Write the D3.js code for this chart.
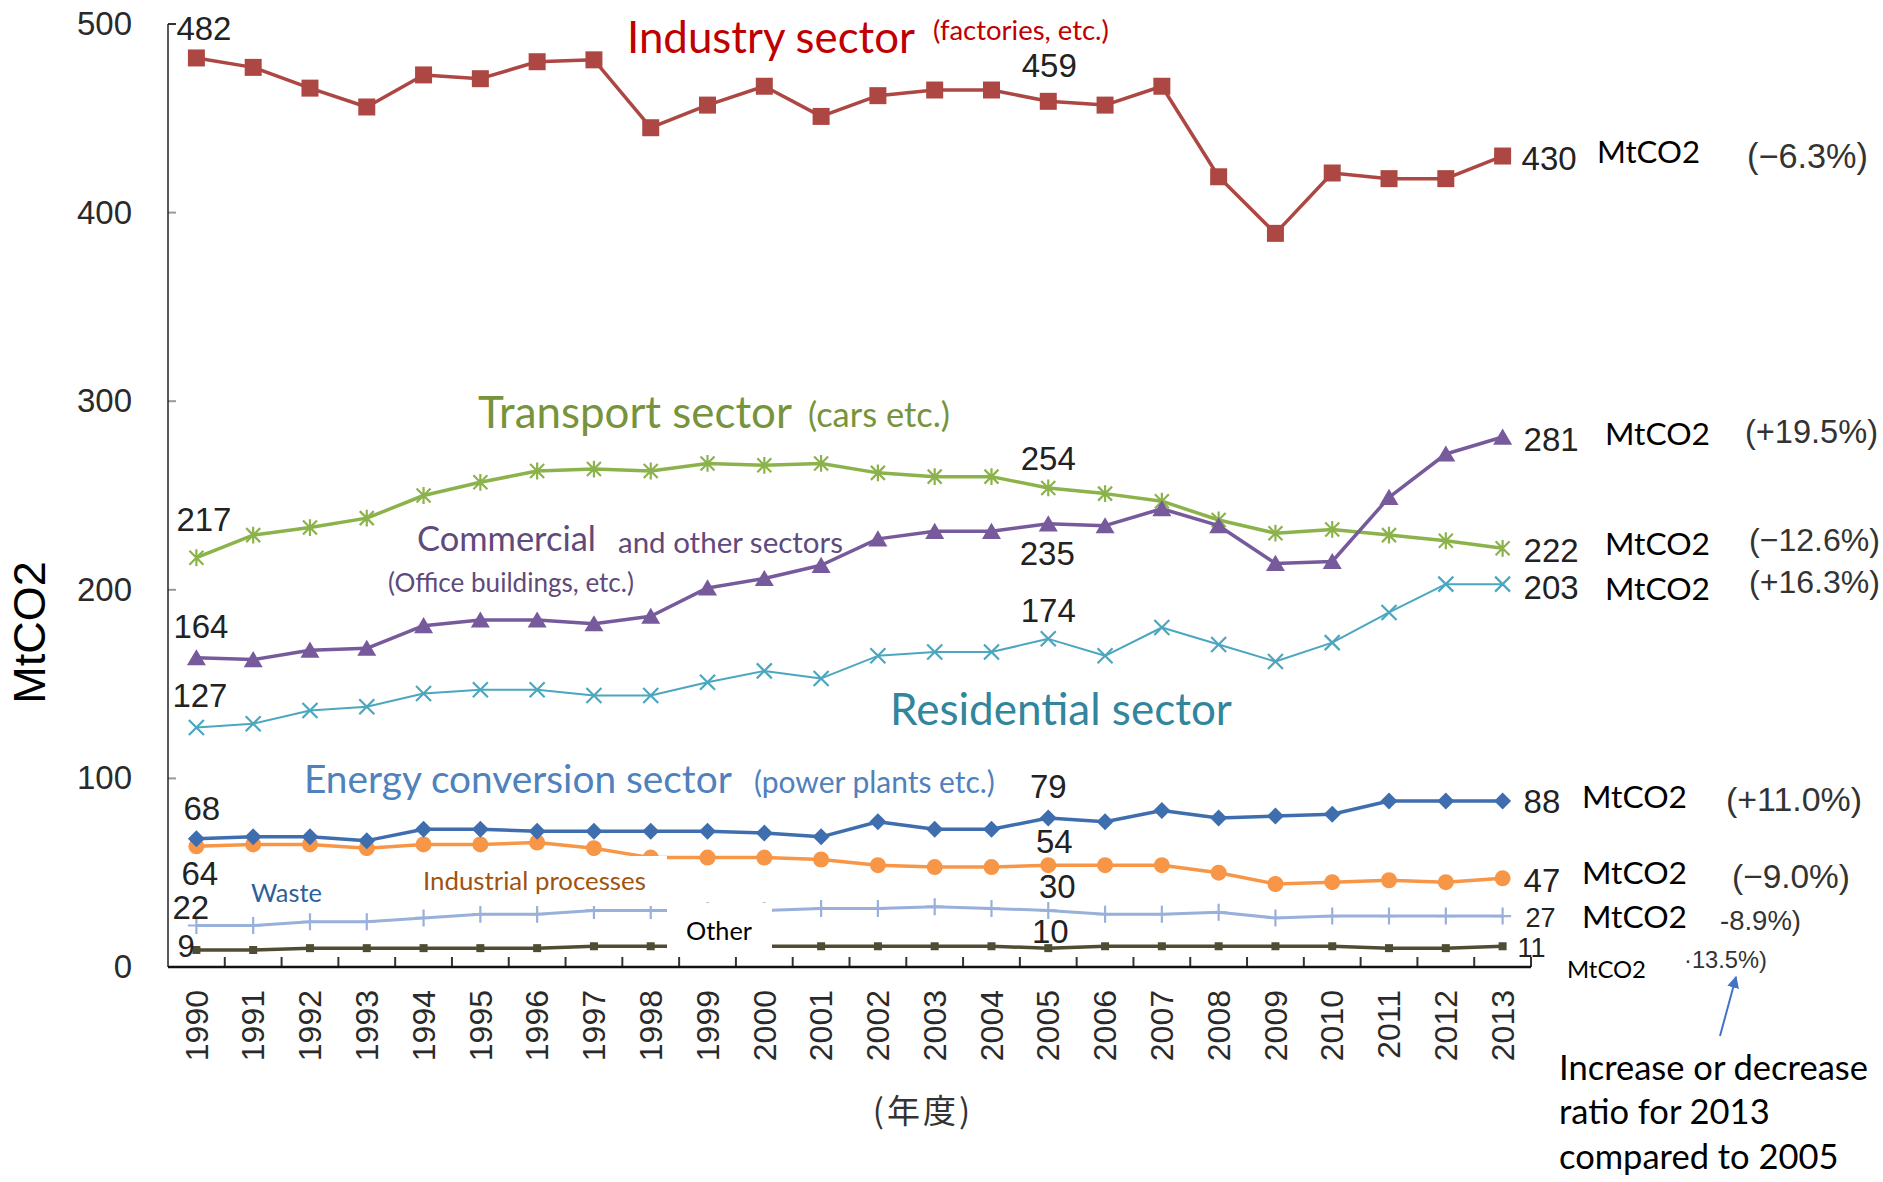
<!DOCTYPE html>
<html>
<head>
<meta charset="utf-8">
<script src="https://cdn.jsdelivr.net/npm/d3@7"></script>
<style>
  body { margin: 0; background: #fff; }
  svg { display: block; }
</style>
</head>
<body>
<div id="chart"></div>
<script>
// categories (fiscal years)
const years = [1990, 1991, 1992, 1993, 1994, 1995, 1996, 1997, 1998, 1999, 2000, 2001,
               2002, 2003, 2004, 2005, 2006, 2007, 2008, 2009, 2010, 2011, 2012, 2013];

// emissions by sector, MtCO2
const industry    = [482, 477, 466, 456, 473, 471, 480, 481, 445, 457, 467, 451, 462, 465, 465, 459, 457, 467, 419, 389, 421, 418, 418, 430];
const transport   = [217, 229, 233, 238, 250, 257, 263, 264, 263, 267, 266, 267, 262, 260, 260, 254, 251, 247, 237, 230, 232, 229, 226, 222];
const commercial  = [164, 163, 168, 169, 181, 184, 184, 182, 186, 201, 206, 213, 227, 231, 231, 235, 234, 243, 234, 214, 215, 249, 272, 281];
const residential = [127, 129, 136, 138, 145, 147, 147, 144, 144, 151, 157, 153, 165, 167, 167, 174, 165, 180, 171, 162, 172, 188, 203, 203];
const energy      = [68, 69, 69, 67, 73, 73, 72, 72, 72, 72, 71, 69, 77, 73, 73, 79, 77, 83, 79, 80, 81, 88, 88, 88];
const processes   = [64, 65, 65, 63, 65, 65, 66, 63, 58, 58, 58, 57, 54, 53, 53, 54, 54, 54, 50, 44, 45, 46, 45, 47];
const waste       = [22, 22, 24, 24, 26, 28, 28, 30, 30, 30, 30, 31, 31, 32, 31, 30, 28, 28, 29, 26, 27, 27, 27, 27];
const other       = [9, 9, 10, 10, 10, 10, 10, 11, 11, 11, 11, 11, 11, 11, 11, 10, 11, 11, 11, 11, 11, 10, 10, 11];

// y ticks and change ratios 2013 vs 2005
const yTicks = [0, 100, 200, 300, 400, 500];
const ratios = ["(−6.3%)", "(+19.5%)", "(−12.6%)", "(+16.3%)", "(+11.0%)", "(−9.0%)", "-8.9%)", "·13.5%)"];

const width = 1883, height = 1182;
const margin = { top: 24, right: 352, bottom: 215, left: 168 };

const svg = d3.select("#chart")
  .append("svg")
  .attr("width", width)
  .attr("height", height);

const x = d3.scaleBand()
  .domain(years)
  .range([margin.left, width - margin.right]);

const y = d3.scaleLinear()
  .domain([0, 500])
  .range([height - margin.bottom, margin.top]);

const cx = yr => x(yr) + x.bandwidth() / 2;
const numFont = "'Liberation Sans', Arial, sans-serif";
const txtFont = "Lato, 'Open Sans', sans-serif";

// y axis labels
svg.append("g")
  .attr("transform", `translate(${margin.left},0)`)
  .call(d3.axisLeft(y).tickValues(yTicks).tickSize(0).tickPadding(36))
  .call(g => g.select(".domain").remove())
  .call(g => g.selectAll("text")
    .attr("font-family", numFont)
    .attr("font-size", 33)
    .attr("fill", "#2a2a2a"));

// small inner ticks on the y axis
svg.append("g")
  .selectAll("line")
  .data(yTicks.filter(d => d > 0))
  .join("line")
  .attr("x1", margin.left)
  .attr("x2", margin.left + 8)
  .attr("y1", d => y(d))
  .attr("y2", d => y(d))
  .attr("stroke", d => d === 500 ? "#333" : "#999")
  .attr("stroke-width", 2);

svg.append("line")
  .attr("x1", margin.left).attr("x2", margin.left)
  .attr("y1", y(500)).attr("y2", y(0))
  .attr("stroke", "#222").attr("stroke-width", 1.5);

// x axis labels (rotated)
svg.append("g")
  .attr("transform", `translate(0,${y(0)})`)
  .call(d3.axisBottom(x).tickSize(0))
  .call(g => g.select(".domain").remove())
  .call(g => g.selectAll("text")
    .attr("font-family", numFont)
    .attr("font-size", 32)
    .attr("fill", "#2a2a2a")
    .attr("transform", "rotate(-90)")
    .attr("text-anchor", "end")
    .attr("x", -23)
    .attr("y", 0)
    .attr("dy", "0.35em"));

// x axis line and ticks between years
svg.append("g")
  .selectAll("line")
  .data(years)
  .join("line")
  .attr("x1", d => x(d) + x.bandwidth())
  .attr("x2", d => x(d) + x.bandwidth())
  .attr("y1", y(0))
  .attr("y2", y(0) - 10)
  .attr("stroke", "#333")
  .attr("stroke-width", 2);

svg.append("line")
  .attr("x1", margin.left).attr("x2", width - margin.right)
  .attr("y1", y(0)).attr("y2", y(0))
  .attr("stroke", "#111").attr("stroke-width", 2.5);

// axis titles
svg.append("text")
  .attr("transform", `translate(45,${(y(0) + y(500)) / 2 + 137}) rotate(-90)`)
  .attr("text-anchor", "middle")
  .attr("font-family", numFont)
  .attr("font-size", 45)
  .attr("fill", "#000")
  .text("MtCO2");

svg.append("text")
  .attr("x", 923).attr("y", 1123)
  .attr("text-anchor", "middle")
  .attr("font-family", "'Noto Sans CJK JP', sans-serif")
  .attr("font-size", 33)
  .attr("letter-spacing", 3)
  .attr("fill", "#333")
  .text("(年度)");

// marker shapes
const shapes = {
  square: s => `M${-s / 2},${-s / 2}h${s}v${s}h${-s}Z`,
  diamond: s => `M0,${-s / 2}L${s / 2},0L0,${s / 2}L${-s / 2},0Z`,
  triangle: s => `M0,${-s * 0.45}L${s / 2},${s * 0.4}L${-s / 2},${s * 0.4}Z`,
  cross: s => `M${-s / 2},${-s / 2}L${s / 2},${s / 2}M${-s / 2},${s / 2}L${s / 2},${-s / 2}`,
  star: s => `M${-s / 2},${-s / 2}L${s / 2},${s / 2}M${-s / 2},${s / 2}L${s / 2},${-s / 2}M0,${-s * 0.6}V${s * 0.6}`,
  plus: s => `M0,${-s / 2}V${s / 2}M${-s / 2},0H${s / 2}`
};

// series styling + label placement (offsets from the point)
const series = [
  { values: other, color: "#4f4c33", lw: 3.5, shape: "square", size: 8, fill: true,
    labels: [[0, -19, 7, "start", 31], [15, 2, -5, "middle", 33], [23, 15, 11, "start", 27]] },
  { values: waste, color: "#98b0da", lw: 3, shape: "plus", size: 17, fill: false,
    labels: [[0, -24, -7, "start", 33], [15, 9, -12, "middle", 33], [23, 23, 11, "start", 27]] },
  { values: processes, color: "#f79646", lw: 3.5, shape: "circle", size: 16, fill: true,
    labels: [[0, -15, 39, "start", 33], [15, 6, -12, "middle", 33], [23, 21, 14, "start", 33]] },
  { values: energy, color: "#3e6eae", lw: 3.5, shape: "diamond", size: 17, fill: true,
    labels: [[0, -13, -19, "start", 33], [15, 0, -20, "middle", 33], [23, 21, 12, "start", 33]] },
  { values: residential, color: "#4ba7bf", lw: 2, shape: "cross", size: 15, fill: false,
    labels: [[0, -24, -20, "start", 33], [15, 0, -17, "middle", 33], [23, 21, 15, "start", 33]] },
  { values: transport, color: "#8cb34b", lw: 3.5, shape: "star", size: 14, fill: false,
    labels: [[0, -20, -27, "start", 33], [15, 0, -18, "middle", 33], [23, 21, 14, "start", 33]] },
  { values: commercial, color: "#765a9c", lw: 3.5, shape: "triangle", size: 19, fill: true,
    labels: [[0, -23, -20, "start", 33], [15, -1, 41, "middle", 33], [23, 21, 14, "start", 33]] },
  { values: industry, color: "#ad4743", lw: 3.5, shape: "square", size: 17, fill: true,
    labels: [[0, -20, -18, "start", 33], [15, 1, -24, "middle", 33], [23, 19, 14, "start", 33]] }
];

const line = d3.line()
  .x((d, i) => cx(years[i]))
  .y(d => y(d));

series.forEach(s => {
  svg.append("path")
    .datum(s.values)
    .attr("d", line)
    .attr("fill", "none")
    .attr("stroke", s.color)
    .attr("stroke-width", s.lw)
    .attr("stroke-linejoin", "round");

  const g = svg.append("g");
  if (s.shape === "circle") {
    g.selectAll("circle")
      .data(s.values)
      .join("circle")
      .attr("cx", (d, i) => cx(years[i]))
      .attr("cy", d => y(d))
      .attr("r", s.size / 2)
      .attr("fill", s.color);
  } else {
    g.selectAll("path")
      .data(s.values)
      .join("path")
      .attr("transform", (d, i) => `translate(${cx(years[i])},${y(d)})`)
      .attr("d", shapes[s.shape](s.size))
      .attr("fill", s.fill ? s.color : "none")
      .attr("stroke", s.color)
      .attr("stroke-width", s.fill ? 0 : 2.2);
  }
});

// white text boxes pasted over the lines in the original
svg.append("rect").attr("x", 219).attr("y", 856).attr("width", 448).attr("height", 50).attr("fill", "#fff");
svg.append("rect").attr("x", 667).attr("y", 903).attr("width", 105).attr("height", 49).attr("fill", "#fff");

// value labels: 1990, 2005, 2013
series.forEach(s => {
  s.labels.forEach(([i, dx, dy, anchor, fs]) => {
    svg.append("text")
      .attr("x", cx(years[i]) + dx)
      .attr("y", y(s.values[i]) + dy)
      .attr("text-anchor", anchor)
      .attr("font-family", numFont)
      .attr("font-size", fs)
      .attr("fill", "#222")
      .text(s.values[i]);
  });
});

// fit a text to a measured width by changing its font size
function fitText(sel, w) {
  const len = sel.node().getComputedTextLength();
  const fs = parseFloat(sel.attr("font-size"));
  sel.attr("font-size", fs * w / len);
}

const notes = [
  ["Industry sector", 627, 53, 288, "#c00000"],
  ["(factories, etc.)", 933, 40, 176, "#c00000"],
  ["Transport sector", 478, 428, 314, "#77933c"],
  ["(cars etc.)", 808, 427, 142, "#77933c"],
  ["Commercial", 417, 551, 179, "#604a7b"],
  ["and other sectors", 618, 553, 225, "#604a7b"],
  ["(Office buildings, etc.)", 388, 592, 246, "#604a7b"],
  ["Residential sector", 890, 725, 342, "#31859c"],
  ["Energy conversion sector", 304, 793, 428, "#4f81bd"],
  ["(power plants etc.)", 754, 793, 241, "#4f81bd"],
  ["Waste", 251, 902, 71, "#2f5f9a"],
  ["Industrial processes", 423, 890, 223, "#a0520f"],
  ["Other", 686, 940, 66, "#000"],
  ["MtCO2", 1597, 163, 103, "#000"],
  ["MtCO2", 1605, 445, 105, "#000"],
  ["MtCO2", 1605, 555, 105, "#000"],
  ["MtCO2", 1605, 600, 105, "#000"],
  ["MtCO2", 1582, 808, 105, "#000"],
  ["MtCO2", 1582, 884, 105, "#000"],
  ["MtCO2", 1582, 928, 105, "#000"],
  ["MtCO2", 1567, 978, 79, "#000"]
];

notes.forEach(([t, nx, ny, w, c]) => {
  const el = svg.append("text")
    .attr("x", nx).attr("y", ny)
    .attr("font-family", txtFont)
    .attr("font-size", 30)
    .attr("fill", c)
    .text(t);
  fitText(el, w);
});

// change ratio labels
const ratioPos = [[1747, 168, 121], [1745, 443, 133], [1749, 551, 131], [1749, 593, 131],
                  [1726, 811, 136], [1732, 888, 118], [1720, 930, 81], [1684, 968, 83]];
ratios.forEach((r, k) => {
  const [rx, ry, w] = ratioPos[k];
  const el = svg.append("text")
    .attr("x", rx).attr("y", ry)
    .attr("font-family", numFont)
    .attr("font-size", 30)
    .attr("fill", "#333")
    .text(r);
  fitText(el, w);
});

// explanation note with arrow
svg.append("defs").append("marker")
  .attr("id", "arrow")
  .attr("viewBox", "0 0 10 10")
  .attr("refX", 9).attr("refY", 5)
  .attr("markerWidth", 6).attr("markerHeight", 6)
  .attr("orient", "auto")
  .append("path")
  .attr("d", "M0,0L10,5L0,10Z")
  .attr("fill", "#4472c4");

svg.append("line")
  .attr("x1", 1720).attr("y1", 1036)
  .attr("x2", 1736).attr("y2", 977)
  .attr("stroke", "#4472c4")
  .attr("stroke-width", 2)
  .attr("marker-end", "url(#arrow)");

const n1 = svg.append("text")
  .attr("x", 1559).attr("y", 1080)
  .attr("font-family", txtFont)
  .attr("font-size", 32)
  .attr("fill", "#000")
  .text("Increase or decrease");
fitText(n1, 309);
const nfs = n1.attr("font-size");
[["ratio for 2013", 1124], ["compared to 2005", 1169]].forEach(([t, ny]) => {
  svg.append("text")
    .attr("x", 1559).attr("y", ny)
    .attr("font-family", txtFont)
    .attr("font-size", nfs)
    .attr("fill", "#000")
    .text(t);
});
</script>
</body>
</html>
